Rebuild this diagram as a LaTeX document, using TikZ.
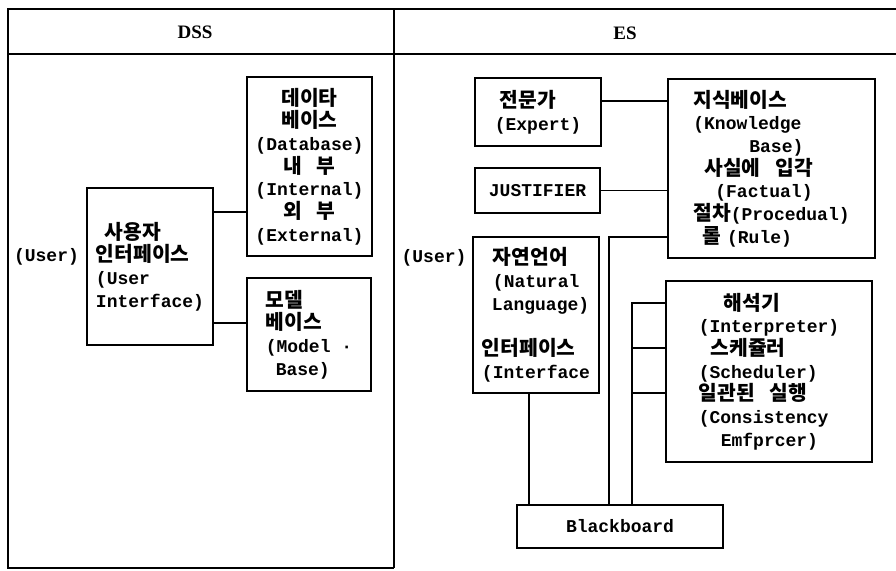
\documentclass[tikz,border=0pt]{standalone}
\usepackage{fontspec}
\setmainfont{Liberation Mono}
\newfontfamily\krfont{Noto Sans CJK KR}[Scale=1.13]
\newfontfamily\hdfont{Liberation Serif}
\newcommand\kr[1]{{\krfont\bfseries #1}}
\newcommand\ks{\hspace{15pt}}
\begin{document}
\begin{tikzpicture}[x=1pt,y=-1pt,
  every node/.style={font=\fontsize{18}{22.7}\selectfont\bfseries},
  box/.style={draw,line width=1.3pt,inner sep=0pt,align=left},
  lbl/.style={inner sep=0pt},
  hdr/.style={inner sep=0pt,font=\hdfont\bfseries\fontsize{19}{22}\selectfont},
  conn/.style={line width=1.2pt},
  frame/.style={line width=1.3pt}]
\useasboundingbox (0,0) rectangle (896,570);
% frame
\draw[frame] (896,9) -- (8,9) -- (8,568) -- (394,568);
\draw[frame] (8,54) -- (896,54);
\draw[frame] (394,9) -- (394,568);
\node[hdr] (hdss) at (195,32) {DSS};
\node[hdr] (hes) at (625,33) {ES};
% DSS
\node[lbl] (udss) at (46.5,257) {(User)};
\node[box,minimum width=126pt,minimum height=157pt] (ui) at (150,266.5)
  {\hspace*{9pt}\kr{사용자}\\\kr{인터페이스}\\(User\\Interface)};
\node[box,align=center,minimum width=125pt,minimum height=179pt] (db) at (309.5,166.5)
  {\kr{데이타}\\\kr{베이스}\\(Database)\\\kr{내\ks 부}\\(Internal)\\\kr{외\ks 부}\\(External)};
\node[box,minimum width=124pt,minimum height=113pt] (mb) at (309,334.5)
  {\kr{모델}\\\kr{베이스}\\(Model ·\\\hspace*{10pt}Base)};
\draw[conn] (ui.east |- 0,212) -- (db.west |- 0,212);
\draw[conn] (ui.east |- 0,323) -- (mb.west |- 0,323);
% ES
\node[lbl] (ues) at (434,258) {(User)};
\node[box,minimum width=126pt,minimum height=68pt] (ex) at (538,112)
  {\hspace*{5pt}\kr{전문가}\\(Expert)};
\node[box,minimum width=125pt,minimum height=45pt] (ju) at (537.5,190.5) {JUSTIFIER};
\node[box,minimum width=126pt,minimum height=156pt] (nl) at (536,315)
  {\hspace*{11pt}\kr{자연언어}\\\hspace*{11pt}(Natural\\\hspace*{10pt}Language)\\[22.7pt]\kr{인터페이스}\\(Interface};
\node[box,minimum width=207pt,minimum height=179pt] (kb) at (771.5,168.5)
  {\kr{지식베이스}\\(Knowledge\\\hspace*{56pt}Base)\\\hspace*{11pt}\kr{사실에\ks 입각}\\\hspace*{22pt}(Factual)\\\kr{절차}(Procedual)\\\hspace*{9pt}\kr{롤}\hspace{6pt}(Rule)};
\node[box,minimum width=206pt,minimum height=181pt] (ip) at (769,371.5)
  {\hspace*{25pt}\kr{해석기}\\(Interpreter)\\\hspace*{12pt}\kr{스케쥴러}\\(Scheduler)\\\kr{일관된\ks 실행}\\(Consistency\\\hspace*{22pt}Emfprcer)};
\node[box,align=center,minimum width=206pt,minimum height=43pt] (bb) at (620,526.5) {Blackboard};
\draw[conn] (ex.east |- 0,101) -- (kb.west |- 0,101);
\draw[conn] (ju.east) -- (kb.west |- ju.east);
\draw[conn] (kb.west |- 0,237) -| (bb.north -| 609,0);
\draw[conn] (ip.west |- 0,303) -| (bb.north -| 632,0);
\draw[conn] (ip.west |- 0,348) -- ++(-34,0);
\draw[conn] (ip.west |- 0,393) -- ++(-34,0);
\draw[conn] (nl.south -| 529,0) -- (bb.north -| 529,0);
\end{tikzpicture}
\end{document}
